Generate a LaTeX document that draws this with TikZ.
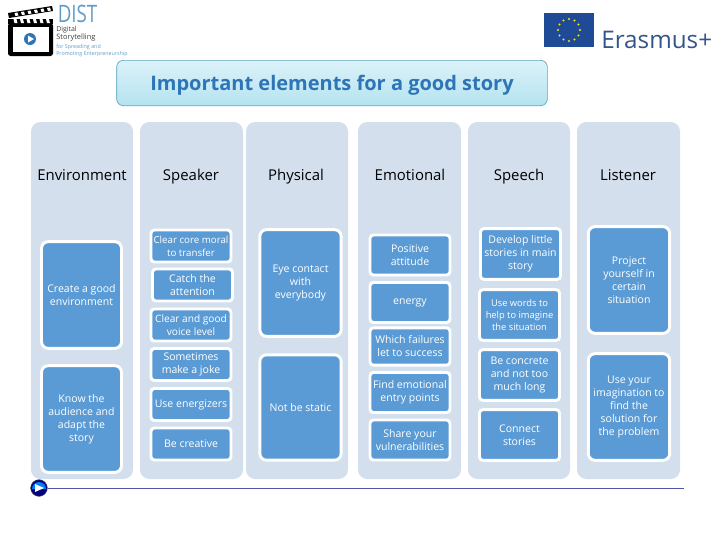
\documentclass[tikz,border=0pt]{standalone}
\usepackage{fontspec}
\setmainfont{Open Sans}
\definecolor{colbg}{HTML}{D4DFEE}
\definecolor{cellblue}{HTML}{5B9BD5}
\definecolor{titleblue}{HTML}{2E75B6}
\definecolor{titletop}{HTML}{DCF2F9}
\definecolor{titlebot}{HTML}{B4E3F0}
\definecolor{titleedge}{HTML}{5BA5BE}
\definecolor{distblue}{HTML}{5F9CC8}
\definecolor{eunavy}{HTML}{1F4A96}
\definecolor{erasmusgrey}{HTML}{34558B}
\tikzset{
  colhead/.style={font=\fontsize{11.2}{12}\selectfont,text=black,anchor=base},
  cellbox/.style={draw=white,line width=2.2pt,fill=cellblue,rounded corners=2.5pt,align=center,
    text=white,font=\fontsize{7.9}{9.75}\selectfont,inner sep=0pt},
  tallbox/.style={cellbox,rounded corners=5pt},
}
\begin{document}
\begin{tikzpicture}[x=0.75pt,y=-0.75pt]
      \useasboundingbox (0,0) rectangle (720,540);
      % columns
      \foreach \xa/\xb in {31/133,140/243,246/348,358/461,468/570,577/680}
        \fill[colbg,rounded corners=7pt] (\xa,122) rectangle (\xb,479);
      % title
      \node[draw=titleedge,line width=0.5pt,rounded corners=5pt,top color=titletop,bottom color=titlebot,
        minimum width=323pt,minimum height=34pt,text depth=0pt,text=titleblue,font=\fontsize{15}{16}\selectfont\bfseries]
        (title) at (332,83) {Important elements for a good story};
      % headers
      \node[colhead] (environment) at (82,180) {Environment};
      \node[colhead] (speaker) at (191,180) {Speaker};
      \node[colhead] (physical) at (296,180) {Physical};
      \node[colhead] (emotional) at (410,180) {Emotional};
      \node[colhead] (speech) at (519,180) {Speech};
      \node[colhead] (listener) at (628,180) {Listener};
      % environment
      \node[tallbox,minimum width=60pt,minimum height=80pt] (goodenv) at (81.5,295) {Create a good\\environment};
      \node[tallbox,minimum width=60pt,minimum height=80pt] (audience) at (81.5,419) {Know the\\audience and\\adapt the\\story};
      % speaker
      \node[cellbox,minimum width=60pt,minimum height=24pt,font=\fontsize{7.3}{9.75}\selectfont] (moral) at (191,246) {Clear core moral\\to transfer};
      \node[cellbox,minimum width=60pt,minimum height=24pt] (attention) at (192.5,285) {Catch the\\attention};
      \node[cellbox,minimum width=60pt,minimum height=24pt,font=\fontsize{7.6}{9.75}\selectfont] (voice) at (191,325) {Clear and good\\voice level};
      \node[cellbox,minimum width=60pt,minimum height=24pt] (joke) at (191,364.5) {Sometimes\\make a joke};
      \node[cellbox,minimum width=60pt,minimum height=24pt] (energizers) at (191,404.5) {Use energizers};
      \node[cellbox,minimum width=60pt,minimum height=24pt] (creative) at (191,444) {Be creative};
      % physical
      \node[tallbox,minimum width=61pt,minimum height=80pt] (eyecontact) at (300.5,283) {Eye contact\\with\\everybody};
      \node[tallbox,minimum width=61pt,minimum height=79pt] (static) at (300.5,407.5) {Not be static};
      % emotional
      \node[cellbox,minimum width=60pt,minimum height=30pt] (positive) at (410,255) {Positive\\attitude};
      \node[cellbox,minimum width=60pt,minimum height=30pt] (energy) at (410,302.5) {energy};
      \node[cellbox,minimum width=60pt,minimum height=28pt] (failures) at (410,346.5) {Which failures\\let to success};
      \node[cellbox,minimum width=60pt,minimum height=30pt] (entry) at (410,392.5) {Find emotional\\entry points};
      \node[cellbox,minimum width=60pt,minimum height=30pt] (share) at (410,440) {Share your\\vulnerabilities};
      % speech
      \node[cellbox,minimum width=60pt,minimum height=38pt] (little) at (520.5,254) {Develop little\\stories in main\\story};
      \node[cellbox,minimum width=60pt,minimum height=38pt,font=\fontsize{7}{9}\selectfont] (words) at (519.5,315) {Use words to\\help to imagine\\the situation};
      \node[cellbox,minimum width=60pt,minimum height=38pt] (concrete) at (519.5,375) {Be concrete\\and not too\\much long};
      \node[cellbox,minimum width=60pt,minimum height=38pt] (connect) at (519.5,435) {Connect\\stories};
      % listener
      \node[tallbox,minimum width=61pt,minimum height=80pt] (project) at (629,280) {Project\\yourself in\\certain\\situation};
      \node[tallbox,minimum width=61pt,minimum height=80pt] (imagination) at (629,407) {Use your\\imagination to\\find the\\solution for\\the problem};
      % play button and rule
      \coordinate (ruleend) at (684,488);
      \node[circle,fill=blue!50!black,draw=black!70,line width=0.4pt,inner sep=0pt,minimum size=12.5pt] (play) at (39,488) {};
      \draw[blue!35!gray,line width=0.7pt] (play) -- (ruleend);
      \fill[blue!50!cyan] (39,488) ++(-7,1) arc[start angle=180,end angle=360,radius=7] -- cycle;
      \fill[white] (35,484) -- (44,488) -- (35,492) -- cycle;
      % clapper logo
      \fill[black,rounded corners=2pt] (8,23) rectangle (53,56);
      \fill[white] (13,27) rectangle (49,52);
      \fill[black] (8,13) -- (52,6) -- (53,11) -- (9,18) -- cycle;
      \fill[black] (8,18.5) rectangle (53,24);
      \foreach \n in {1,...,6}{
        \fill[white] ({8+6.5*\n},{14-1*\n}) -- ++(3,-0.5) -- ++(1,3) -- ++(-3,0.5) -- cycle;
        \fill[white] ({7+6.5*\n},19) -- ++(3,0) -- ++(1,4) -- ++(-3,0) -- cycle;
      }
      \node[circle,fill=titleblue,inner sep=0pt,minimum size=9pt] (logoplay) at (30,39) {};
      \fill[white] (28,35.5) -- (34,39) -- (28,42.5) -- cycle;
      \node[text=distblue,font=\fontsize{18}{20}\selectfont,xscale=0.78,inner sep=0pt] (dist) at (77.5,13.5) {DIST};
      \node[anchor=west,inner sep=0pt,text=black!75,font=\fontsize{5.2}{7}\selectfont] (digital) at (56,29.5) {Digital};
      \node[anchor=west,inner sep=0pt,text=black!75,font=\fontsize{5.6}{7}\selectfont] (story) at (56,37.5) {Storytelling};
      \node[anchor=west,inner sep=0pt,text=distblue,font=\fontsize{4}{5}\selectfont] (spreading) at (56,47) {for Spreading and};
      \node[anchor=west,inner sep=0pt,text=distblue,font=\fontsize{4}{5}\selectfont] (promoting) at (56,54) {Promoting Enterpreneurship};
      % erasmus logo
      \fill[eunavy] (544,13) rectangle (594,47);
      \foreach \a in {0,30,...,330}
        \fill[yellow!90!orange] ({569+11*cos(\a)},{30+11*sin(\a)}) circle (1.1);
      \node[anchor=west,inner sep=0pt,text=erasmusgrey,font=\fontsize{18.2}{18}\selectfont] (erasmus) at (601,40) {Erasmus+};
    \end{tikzpicture}
\end{document}
